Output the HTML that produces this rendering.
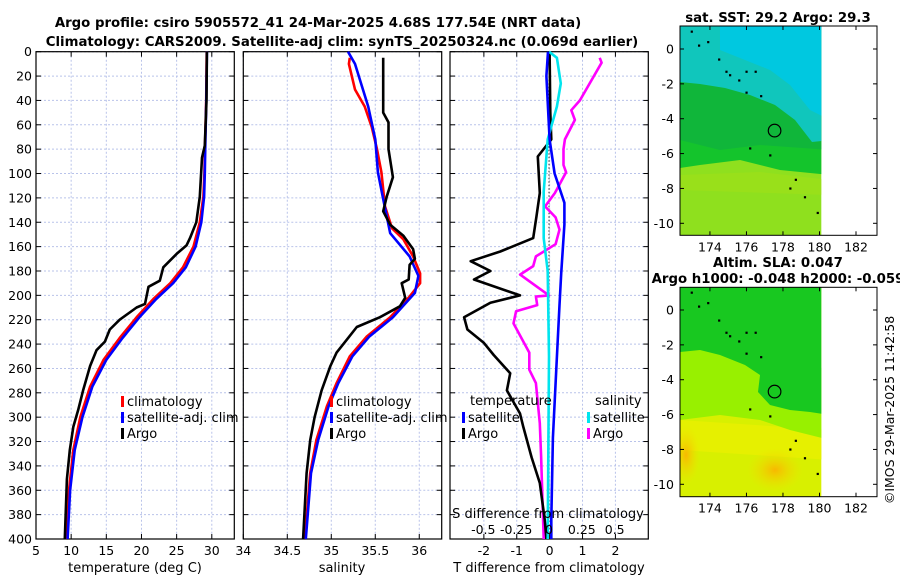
<!DOCTYPE html>
<html><head><meta charset="utf-8"><style>
html,body{margin:0;padding:0;background:#fff;}
svg{display:block;font-family:"DejaVu Sans","Liberation Sans",sans-serif;}
</style></head><body>
<svg id="fig" width="900" height="580" viewBox="0 0 900 580" xmlns="http://www.w3.org/2000/svg">
<text x="318" y="27" text-anchor="middle" font-size="13.3" font-weight="bold">Argo profile: csiro 5905572_41 24-Mar-2025 4.68S 177.54E (NRT data)</text>
<text x="342" y="46" text-anchor="middle" font-size="13.3" font-weight="bold">Climatology: CARS2009. Satellite-adj clim: synTS_20250324.nc (0.069d earlier)</text>
<g id="plots"></g>
<g id="maps"></g>
<text transform="translate(894,410) rotate(-90)" text-anchor="middle" font-size="12.5">©IMOS 29-Mar-2025 11:42:58</text>
</svg>
<script>
// ---- data ----
const depthTicks = [0,20,40,60,80,100,120,140,160,180,200,220,240,260,280,300,320,340,360,380,400];
const tempTicks = [5,10,15,20,25,30];
const salTicks = [34,34.5,35,35.5,36];
const tdiffTicks = [-2,-1,0,1,2];
const sdiffTicks = [-0.5,-0.25,0,0.25,0.5];
const sdiffTickLabels = ["-0.5","-0.25","0","0.25","0.5"];

const tClimDepth = [0,40,77,100,119,140,160,177,190,203,218,235,253,275,300,327,360,400];
const tClim = [29.28,29.2,29.04,28.95,28.8,28.3,27.4,25.9,24.1,21.7,19.3,16.9,14.6,12.7,11.3,10.3,9.7,9.4];
const tSatDepth = [0,40,77,100,119,140,160,177,190,203,218,235,253,275,300,327,360,400];
const tSat = [29.3,29.22,29.08,29.0,28.9,28.5,27.7,26.3,24.5,22.1,19.7,17.3,15.0,13.0,11.6,10.5,9.85,9.5];
const tArgoDepth = [0,40,77,87,119,140,153,159,166,177,188,193,207,210,220,228,238,245,258,278,294,308,327,351,400];
const tArgo = [29.3,29.25,29.0,28.6,28.3,27.8,26.9,26.4,25.0,23.1,22.6,21.0,20.5,19.3,16.9,15.5,14.8,13.6,12.7,11.7,11.0,10.3,9.8,9.4,9.1];

const sClimDepth = [5,10,31,45,62,80,99,127,145,154,168,182,190,201,218,234,250,272,291,319,346,400];
const sClim = [35.21,35.20,35.27,35.38,35.46,35.52,35.57,35.61,35.69,35.82,35.93,36.01,36.01,35.89,35.67,35.4,35.21,35.06,34.95,34.83,34.76,34.70];
const sSatDepth = [0,10,45,72,99,121,149,168,184,198,218,234,250,272,291,319,346,400];
const sSat = [35.19,35.27,35.42,35.50,35.53,35.59,35.67,35.89,35.99,35.95,35.70,35.43,35.24,35.08,34.97,34.85,34.77,34.71];
const sArgoDepth = [5,50,58,80,103,119,131,142,151,162,170,175,187,190,202,209,218,226,237,247,258,278,300,319,346,400];
const sArgo = [35.59,35.59,35.65,35.65,35.70,35.63,35.59,35.67,35.82,35.93,35.95,35.89,35.88,35.80,35.84,35.78,35.55,35.29,35.17,35.06,34.99,34.89,34.81,34.76,34.72,34.68];

const tdArgoDepth = [0,50,72,86,116,135,153,164,172,180,187,200,206,218,228,239,249,264,278,297,308,333,354,384,400];
const tdArgo = [0,0.02,0.05,-0.36,-0.3,-0.4,-0.5,-1.5,-2.4,-1.8,-2.3,-0.9,-1.8,-2.6,-2.5,-2.0,-1.7,-1.2,-1.3,-0.9,-0.8,-0.55,-0.3,-0.15,-0.1];
const tdSatDepth = [0,20,72,100,124,142,182,208,262,317,384,400];
const tdSat = [-0.05,-0.1,0,0.15,0.45,0.45,0.35,0.3,0.2,0.1,0.05,0.05];
const sdSatDepth = [0,5,26,45,72,115,153,180,250,400];
const sdSat = [0,0.06,0.09,0.06,-0.01,-0.04,-0.04,-0.01,0,-0.01];
const sdArgoDepth = [5,9,40,48,56,72,80,93,99,116,127,136,146,158,168,176,183,200,201,208,213,223,247,261,272,305,332,400];
const sdArgo = [0.386,0.4,0.235,0.17,0.197,0.121,0.11,0.11,0.13,0.045,-0.03,0.05,0.08,0.05,-0.1,-0.12,-0.22,0.0,-0.1,-0.09,-0.25,-0.27,-0.15,-0.15,-0.1,-0.07,-0.06,-0.04];

const lonTicks = [174,176,178,180,182];
const latTicks = [0,-2,-4,-6,-8,-10];
const argoLon = 177.54, argoLat = -4.68;

// ---- helpers ----
const NS = "http://www.w3.org/2000/svg";
function mk(tag, attrs, parent){const e=document.createElementNS(NS,tag);for(const k in attrs)e.setAttribute(k,attrs[k]);parent.appendChild(e);return e;}
const plots = document.getElementById('plots');
const Y0=51.7, Y1=539;
const yD = d => Y0 + d/400*(Y1-Y0);

function panel(name, x0, x1, vmin, vmax, ticks, tickLabels, showY){
  const g = mk('g',{},plots);
  
  
  const sx = v => x0 + (v-vmin)/(vmax-vmin)*(x1-x0);
  ticks.forEach(t=>{
    const gl=mk('line',{x1:sx(t),x2:sx(t),y1:Y0,y2:Y1,stroke:'#b9c3ea','stroke-width':1,'stroke-dasharray':'2,2'},g);
    
    
  });
  depthTicks.forEach(d=>{
    const gl=mk('line',{x1:x0,x2:x1,y1:yD(d),y2:yD(d),stroke:'#b9c3ea','stroke-width':1,'stroke-dasharray':'2,2'},g);
    
    
    mk('line',{x1:x0,x2:x0+5,y1:yD(d),y2:yD(d),stroke:'#000'},g);
    mk('line',{x1:x1-5,x2:x1,y1:yD(d),y2:yD(d),stroke:'#000'},g);
    if(showY){
      const t=mk('text',{x:x0-4,y:yD(d)+4.5,'text-anchor':'end','font-size':12.5},g);
      t.textContent=d;
      
      
    }
  });
  ticks.forEach((t,i)=>{
    mk('line',{x1:sx(t),x2:sx(t),y1:Y1,y2:Y1-5,stroke:'#000'},g);
    mk('line',{x1:sx(t),x2:sx(t),y1:Y0,y2:Y0+5,stroke:'#000'},g);
    if(tickLabels){
      const tl=mk('text',{x:sx(t),y:555,'text-anchor':'middle','font-size':12.5},g);
      tl.textContent=tickLabels[i];
      
      
    }
  });
  const b=mk('rect',{x:x0,y:Y0,width:x1-x0,height:Y1-Y0,fill:'none',stroke:'#000','stroke-width':1.2},g);
  
  
  return {g,sx};
}
function series(p, name, depths, vals, color){
  const pts = vals.map((v,i)=>p.sx(v).toFixed(1)+','+yD(depths[i]).toFixed(1)).join(' ');
  const l=mk('polyline',{points:pts,fill:'none',stroke:color,'stroke-width':2.6,'stroke-linejoin':'round'},p.g);
  
  
}
function label(g,x,y,txt,name,opts){
  const t=mk('text',Object.assign({x:x,y:y,'font-size':13},opts||{}),g);
  t.textContent=txt;
  
  
  return t;
}
function legItem(g,x,y,color,txt,name){
  const r=mk('rect',{x:x,y:y-10,width:3,height:11,fill:color},g);
  
  
  label(g,x+6,y,txt,name);
}

// ---- temperature panel ----
const p1 = panel('temperature-panel',36,234.3,5,33.2,tempTicks,tempTicks.map(String),true);
series(p1,'temp-climatology-line',tClimDepth,tClim,'#ff0000');
series(p1,'temp-satellite-line',tSatDepth,tSat,'#0000ff');
series(p1,'temp-argo-line',tArgoDepth,tArgo,'#000000');
label(p1.g,135,572,'temperature (deg C)','temperature-axis-title',{'text-anchor':'middle'});
legItem(p1.g,121,406,'#ff0000','climatology','legend-climatology');
legItem(p1.g,121,422,'#0000ff','satellite-adj. clim','legend-satellite-adj');
legItem(p1.g,121,438,'#000000','Argo','legend-argo');

// ---- salinity panel ----
const p2 = panel('salinity-panel',243.3,441.7,34,36.255,salTicks,salTicks.map(String),false);
series(p2,'sal-climatology-line',sClimDepth,sClim,'#ff0000');
series(p2,'sal-satellite-line',sSatDepth,sSat,'#0000ff');
series(p2,'sal-argo-line',sArgoDepth,sArgo,'#000000');
label(p2.g,342,572,'salinity','salinity-axis-title',{'text-anchor':'middle'});
legItem(p2.g,330,406,'#ff0000','climatology','legend-climatology-2');
legItem(p2.g,330,422,'#0000ff','satellite-adj. clim','legend-satellite-adj-2');
legItem(p2.g,330,438,'#000000','Argo','legend-argo-2');

// ---- difference panel ----
const p3 = panel('difference-panel',450,648.3,-3.03,3.0,tdiffTicks,tdiffTicks.map(String),false);
const sdScale = {g:p3.g, sx: v => 549 + v*131.4};
const zl=mk('line',{x1:549,x2:549,y1:Y0,y2:Y1,stroke:'#333','stroke-width':1,'stroke-dasharray':'1.5,2'},p3.g);


series(sdScale,'sdiff-argo-line',sdArgoDepth,sdArgo,'#ff00ff');
series(p3,'tdiff-argo-line',tdArgoDepth,tdArgo,'#000000');
series(sdScale,'sdiff-satellite-line',sdSatDepth,sdSat,'#00e5ee');
series(p3,'tdiff-satellite-line',tdSatDepth,tdSat,'#0000ff');
label(p3.g,549,572,'T difference from climatology','tdiff-axis-title',{'text-anchor':'middle'});
label(p3.g,548,518,'S difference from climatology','sdiff-axis-title',{'text-anchor':'middle'});
sdiffTicks.forEach((t,i)=>label(p3.g,sdScale.sx(t),534,sdiffTickLabels[i],'sdiff-tick-label',{'text-anchor':'middle','font-size':12.5}));
label(p3.g,470,405,'temperature','legend-temperature-header');
legItem(p3.g,462,422,'#0000ff','satellite','legend-tdiff-satellite');
legItem(p3.g,462,438,'#000000','Argo','legend-tdiff-argo');
label(p3.g,595,405,'salinity','legend-salinity-header');
legItem(p3.g,587,422,'#00e5ee','satellite','legend-sdiff-satellite');
legItem(p3.g,587,438,'#ff00ff','Argo','legend-sdiff-argo');

// ---- maps ----
const maps = document.getElementById('maps');
const MX0=680, MX1=877, lonA=172.36, lonB=183.15;
const mx = lon => MX0 + (lon-lonA)/(lonB-lonA)*(MX1-MX0);
function mapAxes(name, top, bottom, y0, pxPerDeg, fillFn){
  const g=mk('g',{},maps);
  
  
  const my = lat => y0 - lat*pxPerDeg;
  const clipId = name+'-clip';
  const cp=mk('clipPath',{id:clipId},g);
  mk('rect',{x:MX0,y:top,width:mx(180.1)-MX0,height:bottom-top},cp);
  const inner=mk('g',{'clip-path':'url(#'+clipId+')'},g);
  fillFn(inner,top,bottom);
  [[173.0,1.0],[173.4,0.2],[173.9,0.4],[174.5,-0.6],[174.9,-1.3],[175.1,-1.5],[175.6,-1.8],[176.0,-1.3],[176.5,-1.3],[176.0,-2.5],[176.8,-2.7],[176.2,-5.7],[177.3,-6.1],[178.7,-7.5],[178.4,-8.0],[179.2,-8.5],[179.9,-9.4]].forEach(c=>{
    mk('rect',{x:mx(c[0])-1,y:my(c[1])-1,width:2.2,height:2.2,fill:'#000'},inner);
  });
  const circ=mk('circle',{cx:mx(argoLon),cy:my(argoLat),r:6.3,fill:'none',stroke:'#000','stroke-width':1.2},g);
  
  
  latTicks.forEach(l=>{
    mk('line',{x1:MX0,x2:MX0+4,y1:my(l),y2:my(l),stroke:'#000'},g);
    mk('line',{x1:MX1-4,x2:MX1,y1:my(l),y2:my(l),stroke:'#000'},g);
    label(g,MX0-6,my(l)+4.5,String(l),'lat-tick-label',{'text-anchor':'end','font-size':12.5});
  });
  lonTicks.forEach(l=>{
    mk('line',{x1:mx(l),x2:mx(l),y1:bottom,y2:bottom-4,stroke:'#000'},g);
    mk('line',{x1:mx(l),x2:mx(l),y1:top,y2:top+4,stroke:'#000'},g);
    label(g,mx(l),bottom+16,String(l),'lon-tick-label',{'text-anchor':'middle','font-size':12.5});
  });
  const b=mk('rect',{x:MX0,y:top,width:MX1-MX0,height:bottom-top,fill:'none',stroke:'#000','stroke-width':1},g);
  
  
  return g;
}
const defs = mk('defs',{},maps);
const rg1=mk('radialGradient',{id:'org1',cx:'50%',cy:'50%',r:'50%'},defs);
mk('stop',{offset:'0%','stop-color':'#f8b800'},rg1);mk('stop',{offset:'100%','stop-color':'#f0e000','stop-opacity':0},rg1);

label(maps,778,22,'sat. SST: 29.2 Argo: 29.3','sst-map-title',{'text-anchor':'middle','font-weight':'bold','font-size':13.3});
mapAxes('sst-map',26,235.3,49,17.43,(g,top,bottom)=>{
  mk('rect',{x:MX0,y:top,width:160,height:bottom-top,fill:'#8fe01e'},g);
  mk('polygon',{points:'680,26 830,26 830,175 780,170 740,160 700,165 680,168',fill:'#14c42c'},g);
  mk('polygon',{points:'680,80 830,80 830,150 760,145 720,150 680,140',fill:'#10b63a'},g);
  mk('polygon',{points:'680,26 830,26 830,140 812,142 795,120 775,105 750,95 725,88 700,84 680,82',fill:'#10c6bc'},g);
  mk('polygon',{points:'720,26 830,26 830,120 810,110 790,85 770,70 745,60 720,50',fill:'#00c8e0'},g);
  mk('polygon',{points:'680,175 760,172 830,180 830,195 680,190',fill:'#a0e018','opacity':0.6},g);
});
label(maps,778,267,'Altim. SLA: 0.047','sla-map-title-line1',{'text-anchor':'middle','font-weight':'bold','font-size':13.3});
label(maps,778,283,'Argo h1000: -0.048 h2000: -0.059','sla-map-title-line2',{'text-anchor':'middle','font-weight':'bold','font-size':13.3});
mapAxes('sla-map',287.3,496.7,310,17.43,(g,top,bottom)=>{
  mk('rect',{x:MX0,y:top,width:160,height:bottom-top,fill:'#d8f000'},g);
  mk('polygon',{points:'680,420 830,430 830,460 680,450',fill:'#e6f000'},g);
  mk('polygon',{points:'680,350 720,345 760,352 830,370 830,440 790,430 760,420 720,415 680,420',fill:'#98f000'},g);
  mk('polygon',{points:'680,287 830,287 830,415 810,412 790,410 770,405 758,392 760,375 745,365 720,355 700,350 680,352',fill:'#18c820'},g);
  mk('ellipse',{cx:775,cy:470,rx:28,ry:22,fill:'url(#org1)'},g);
  mk('ellipse',{cx:686,cy:455,rx:14,ry:30,fill:'url(#org1)'},g);
});
</script>
</body></html>
